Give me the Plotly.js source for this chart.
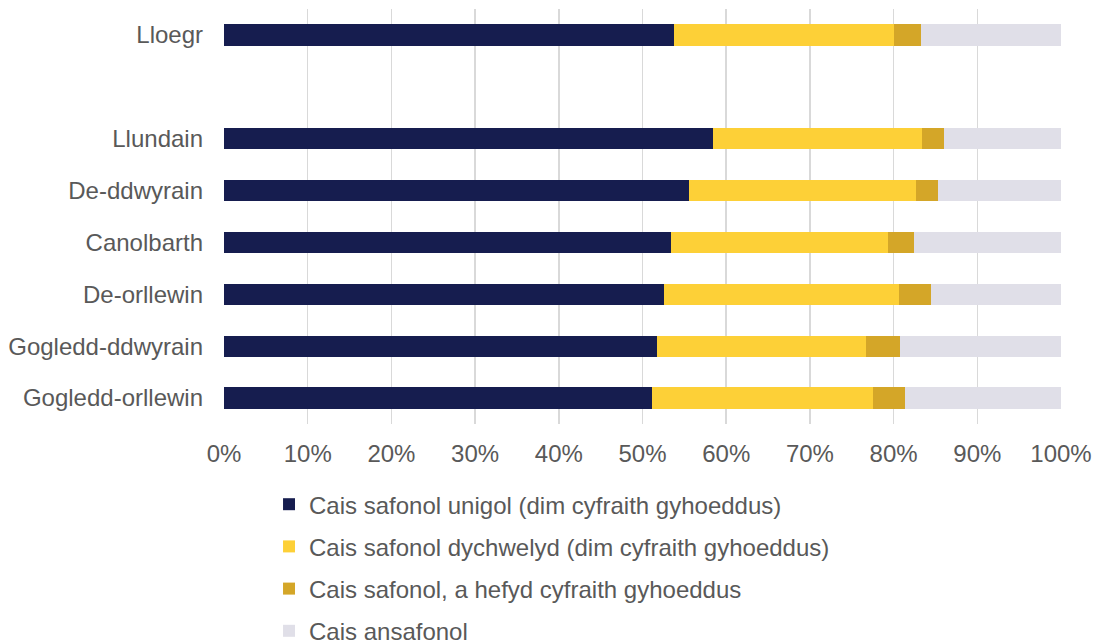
<!DOCTYPE html>
<html>
<head>
<meta charset="utf-8">
<script src="https://cdn.plot.ly/plotly-3.0.1.min.js"></script>
<style>html,body{margin:0;padding:0;background:#fff;}#chart{width:1101px;height:643px;}</style>
</head>
<body>
<div id="chart"></div>
<script>
// Categories (top to bottom); Lloegr separated by a blank slot
const regions = ["Lloegr", "Llundain", "De-ddwyrain", "Canolbarth", "De-orllewin", "Gogledd-ddwyrain", "Gogledd-orllewin"];
const slots = [0, 2, 3, 4, 5, 6, 7];

// Series labels
const seriesNames = [
  "Cais safonol unigol (dim cyfraith gyhoeddus)",
  "Cais safonol dychwelyd (dim cyfraith gyhoeddus)",
  "Cais safonol, a hefyd cyfraith gyhoeddus",
  "Cais ansafonol"
];

// Shares (%)
const safonolUnigol    = [53.8, 58.4, 55.5, 53.4, 52.6, 51.7, 51.1];
const safonolDychwelyd = [26.2, 25.0, 27.2, 25.9, 28.1, 25.0, 26.4];
const safonolCyfraith  = [3.3, 2.6, 2.6, 3.1, 3.8, 4.1, 3.9];
const ansafonol        = [16.7, 14.0, 14.7, 17.6, 15.5, 19.2, 18.6];

const colors = ["#161d4f", "#fdd037", "#d4a628", "#e0dfe8"];
const seriesValues = [safonolUnigol, safonolDychwelyd, safonolCyfraith, ansafonol];

const traces = seriesValues.map((vals, i) => ({
  type: "bar",
  orientation: "h",
  name: seriesNames[i],
  x: vals,
  y: slots,
  width: 0.41,
  legendgroup: "g" + i,
  marker: {color: colors[i], line: {width: 0}},
  hovertemplate: "%{x:.1f}%<extra></extra>"
}));

const layout = {
  width: 1101,
  height: 643,
  margin: {l: 224, r: 40, t: 9, b: 219, autoexpand: false},
  barmode: "stack",
  paper_bgcolor: "#ffffff",
  plot_bgcolor: "#ffffff",
  font: {family: "Liberation Sans, Arial, sans-serif", size: 24, color: "#595959"},
  xaxis: {
    range: [0, 100],
    dtick: 10,
    ticksuffix: "%",
    showgrid: true,
    gridcolor: "#d9d9d9",
    gridwidth: 1.5,
    zeroline: false,
    showline: false,
    ticks: "",
    ticklabelstandoff: 13,
    tickfont: {size: 24, color: "#595959"},
    fixedrange: true
  },
  yaxis: {
    range: [7.5, -0.5],
    tickmode: "array",
    tickvals: slots,
    ticktext: regions,
    showgrid: false,
    zeroline: false,
    showline: false,
    ticks: "",
    ticklabelstandoff: 20,
    tickfont: {size: 24, color: "#595959"},
    fixedrange: true
  },
  showlegend: true,
  legend: {
    orientation: "v",
    x: 0.0538,
    xanchor: "left",
    y: -0.14,
    yanchor: "top",
    traceorder: "grouped",
    tracegroupgap: 8,
    font: {size: 24, color: "#595959"},
    bgcolor: "rgba(0,0,0,0)"
  }
};

Plotly.newPlot("chart", traces, layout, {displayModeBar: false, staticPlot: true});
</script>
</body>
</html>
